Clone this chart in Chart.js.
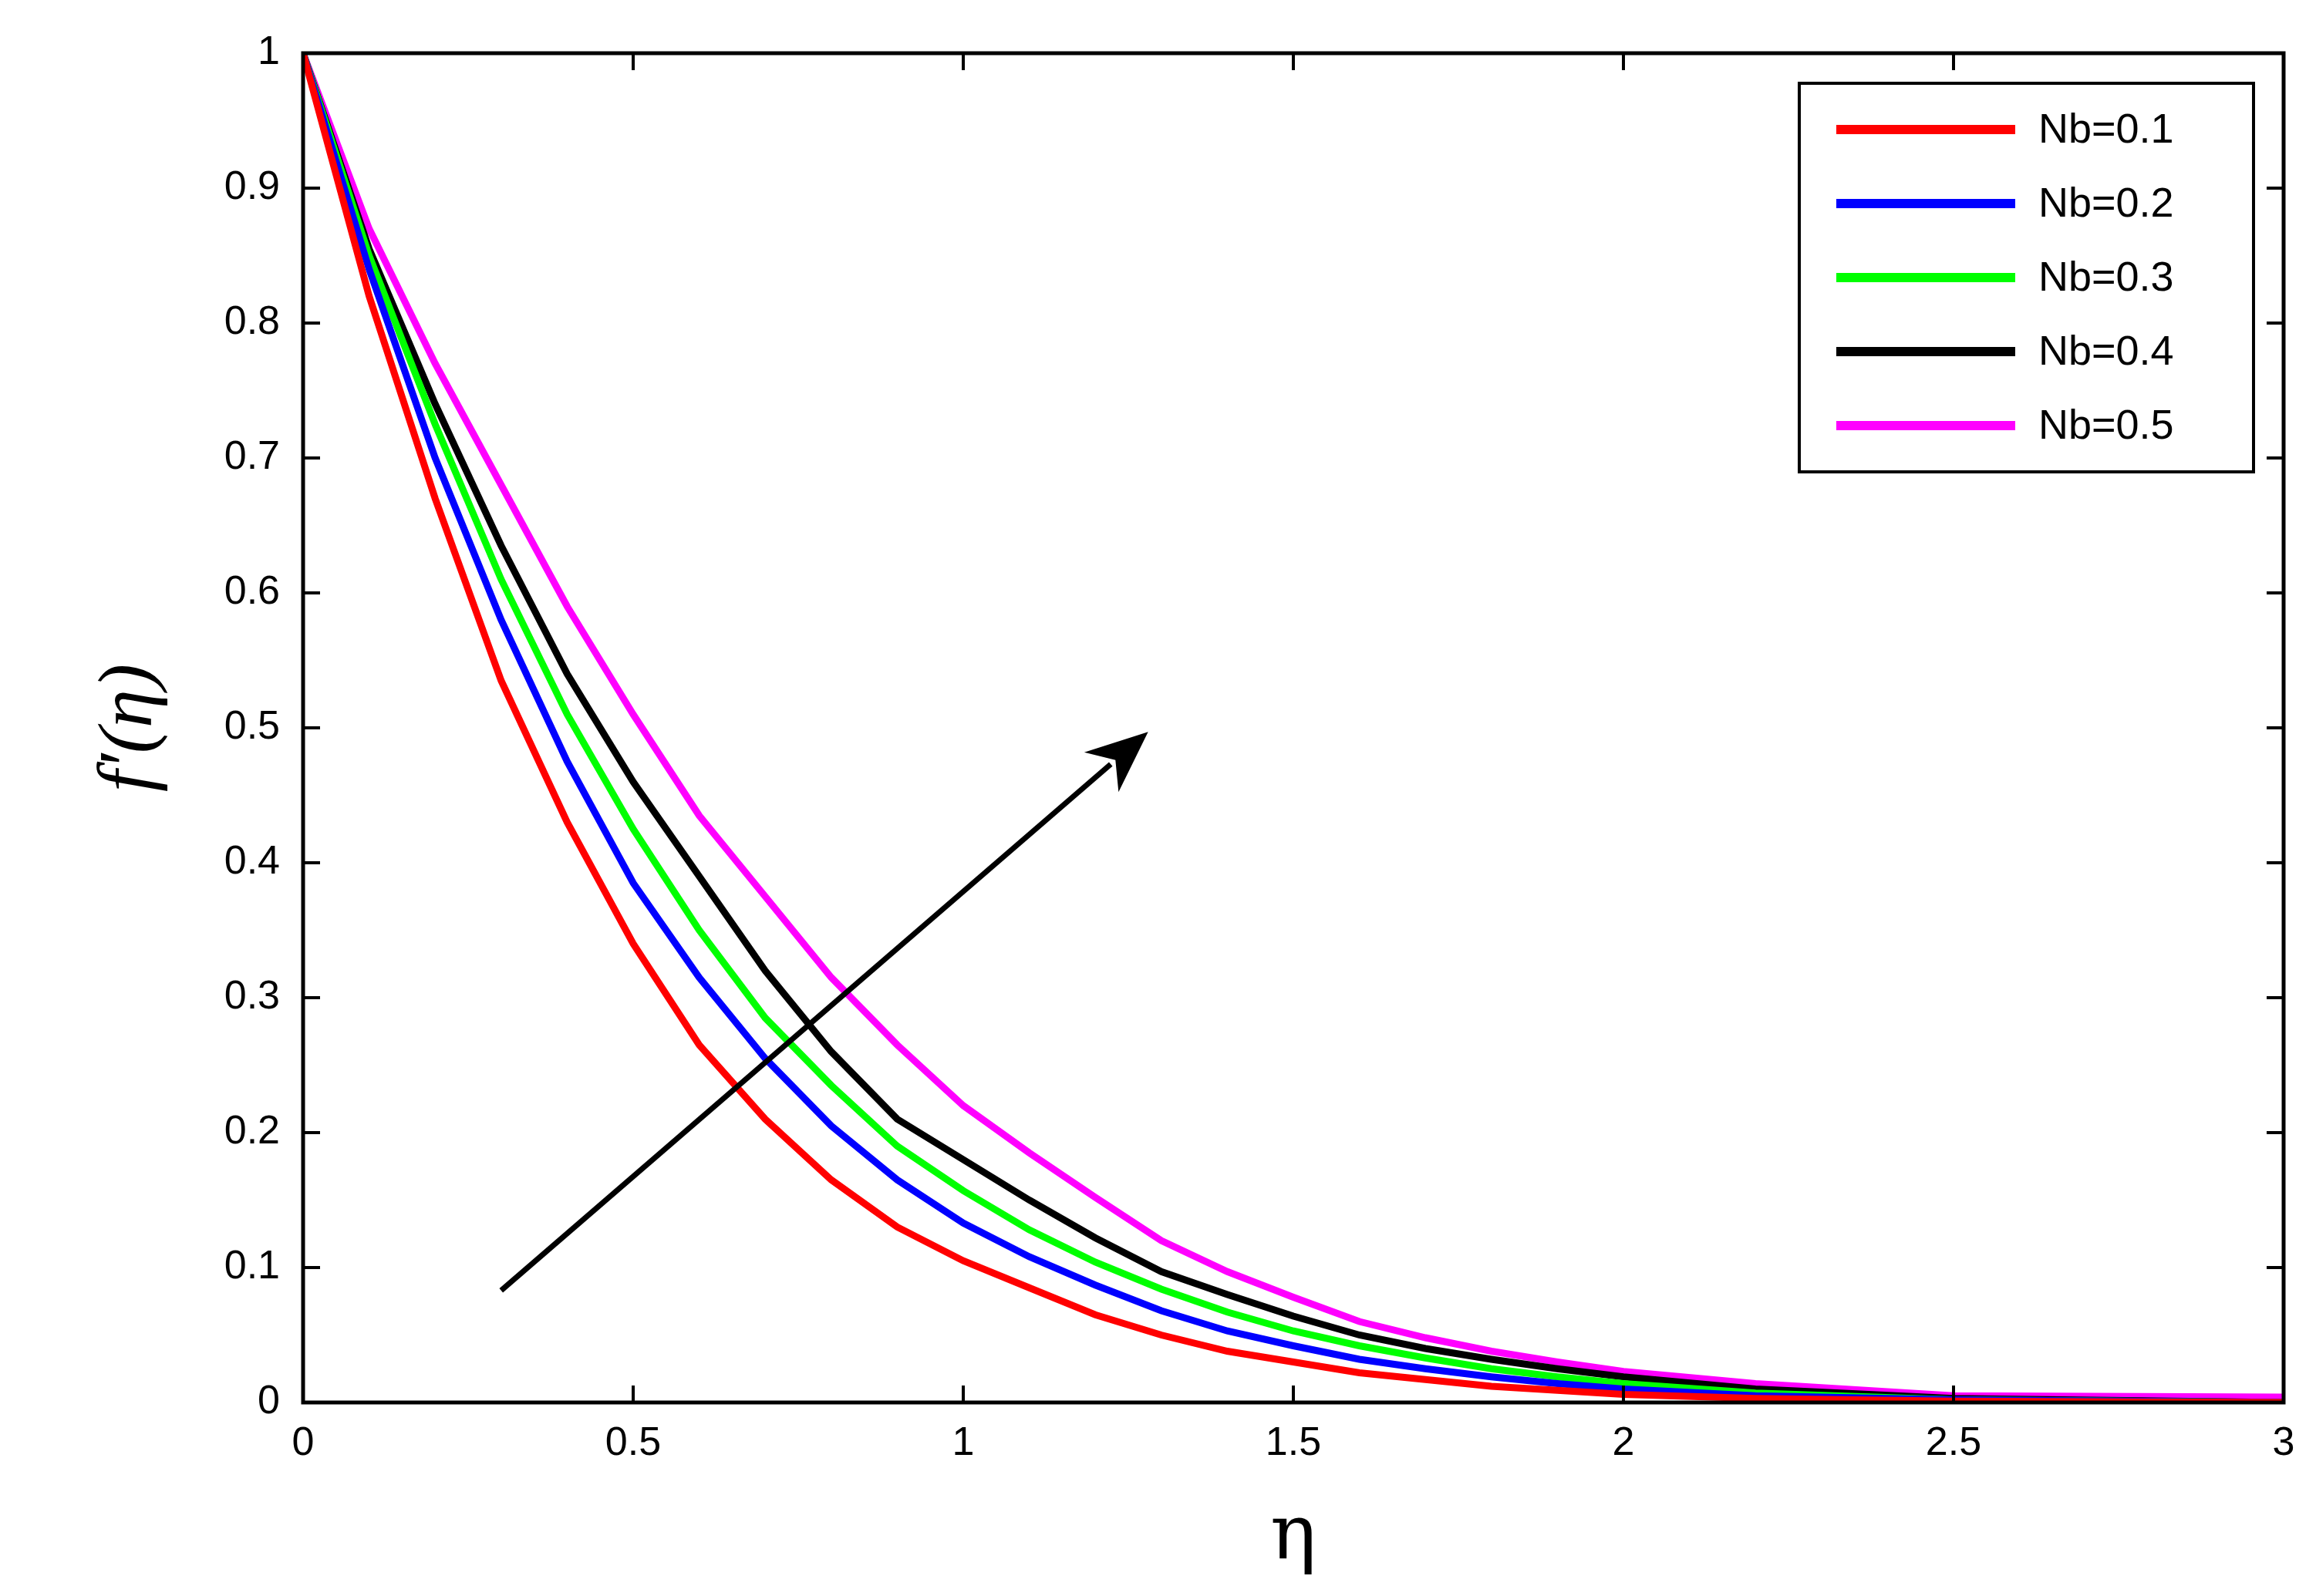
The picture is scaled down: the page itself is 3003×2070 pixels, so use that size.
<!DOCTYPE html>
<html>
<head>
<meta charset="utf-8">
<script src="https://cdn.jsdelivr.net/npm/chart.js@4"></script>
<style>
  html, body { margin: 0; padding: 0; background: #fff; }
  #wrap { width: 3003px; height: 2070px; }
</style>
</head>
<body>
<div id="wrap"><canvas id="chart" width="3003" height="2070"></canvas></div>
<script>
// values
const eta = [0, 0.1, 0.2, 0.3, 0.4, 0.5, 0.6, 0.7, 0.8, 0.9, 1.0, 1.1, 1.2, 1.3, 1.4, 1.5, 1.6, 1.7, 1.8, 1.9, 2.0, 2.2, 2.5, 3.0];
const nb01 = [1, 0.82, 0.67, 0.535, 0.43, 0.34, 0.265, 0.21, 0.165, 0.13, 0.105, 0.085, 0.065, 0.05, 0.038, 0.03, 0.022, 0.017, 0.012, 0.009, 0.006, 0.003, 0.001, 0];
const nb02 = [1, 0.84, 0.70, 0.58, 0.475, 0.385, 0.315, 0.255, 0.205, 0.165, 0.133, 0.108, 0.087, 0.068, 0.053, 0.042, 0.032, 0.025, 0.019, 0.014, 0.010, 0.005, 0.002, 0];
const nb03 = [1, 0.85, 0.725, 0.61, 0.51, 0.425, 0.35, 0.285, 0.235, 0.19, 0.157, 0.128, 0.104, 0.084, 0.067, 0.053, 0.042, 0.033, 0.025, 0.019, 0.014, 0.007, 0.002, 0];
const nb04 = [1, 0.855, 0.74, 0.635, 0.54, 0.46, 0.39, 0.32, 0.26, 0.21, 0.18, 0.15, 0.122, 0.097, 0.08, 0.064, 0.05, 0.04, 0.032, 0.025, 0.019, 0.010, 0.003, 0];
const nb05 = [1, 0.87, 0.77, 0.68, 0.59, 0.51, 0.435, 0.375, 0.315, 0.265, 0.22, 0.185, 0.152, 0.12, 0.097, 0.078, 0.06, 0.048, 0.038, 0.03, 0.023, 0.014, 0.005, 0.004];
const seriesLabels = ['Nb=0.1', 'Nb=0.2', 'Nb=0.3', 'Nb=0.4', 'Nb=0.5'];
const seriesColors = ['#ff0000', '#0000ff', '#00ff00', '#000000', '#ff00ff'];
const xTicks = [0, 0.5, 1, 1.5, 2, 2.5, 3];
const yTicks = [0, 0.1, 0.2, 0.3, 0.4, 0.5, 0.6, 0.7, 0.8, 0.9, 1];
const arrowX = [0.3, 1.28];
const arrowY = [0.083, 0.497];

const allSeries = [nb01, nb02, nb03, nb04, nb05];
const datasets = allSeries.map((vals, i) => ({
    label: seriesLabels[i],
    data: vals.map((v, j) => ({ x: eta[j], y: v })),
    borderColor: seriesColors[i],
    borderWidth: 9,
    pointRadius: 0,
    tension: 0,
    fill: false
}));

const FONT = '"Liberation Sans", Arial, sans-serif';

// frame, mirrored inside ticks, arrow, legend and axis titles
const decor = {
    id: 'decor',
    afterDatasetsDraw(chart) {
        const { ctx, chartArea: a, scales } = chart;
        const xs = scales.x, ys = scales.y;
        ctx.save();
        ctx.strokeStyle = '#000';
        ctx.lineWidth = 5;
        ctx.strokeRect(a.left, a.top, a.right - a.left, a.bottom - a.top);
        const t = 22;
        ctx.lineWidth = 4;
        ctx.beginPath();
        xTicks.forEach(v => {
            const px = xs.getPixelForValue(v);
            ctx.moveTo(px, a.bottom); ctx.lineTo(px, a.bottom - t);
            ctx.moveTo(px, a.top); ctx.lineTo(px, a.top + t);
        });
        yTicks.forEach(v => {
            const py = ys.getPixelForValue(v);
            ctx.moveTo(a.left, py); ctx.lineTo(a.left + t, py);
            ctx.moveTo(a.right, py); ctx.lineTo(a.right - t, py);
        });
        ctx.stroke();

        // arrow
        const x0 = xs.getPixelForValue(arrowX[0]), y0 = ys.getPixelForValue(arrowY[0]);
        const x1 = xs.getPixelForValue(arrowX[1]), y1 = ys.getPixelForValue(arrowY[1]);
        const ang = Math.atan2(y1 - y0, x1 - x0);
        const hl = 80, hw = 34;
        ctx.lineWidth = 7;
        ctx.beginPath();
        ctx.moveTo(x0, y0);
        ctx.lineTo(x1 - hl * 0.8 * Math.cos(ang), y1 - hl * 0.8 * Math.sin(ang));
        ctx.stroke();
        ctx.fillStyle = '#000';
        ctx.beginPath();
        ctx.moveTo(x1, y1);
        ctx.lineTo(x1 - hl * Math.cos(ang) + hw * Math.sin(ang), y1 - hl * Math.sin(ang) - hw * Math.cos(ang));
        ctx.lineTo(x1 - hl * 0.7 * Math.cos(ang), y1 - hl * 0.7 * Math.sin(ang));
        ctx.lineTo(x1 - hl * Math.cos(ang) - hw * Math.sin(ang), y1 - hl * Math.sin(ang) + hw * Math.cos(ang));
        ctx.closePath();
        ctx.fill();

        // legend
        const lx = 2333, ly = 108, lw = 589, lh = 504;
        ctx.fillStyle = '#fff';
        ctx.fillRect(lx, ly, lw, lh);
        ctx.lineWidth = 4;
        ctx.strokeRect(lx, ly, lw, lh);
        ctx.font = '54px ' + FONT;
        ctx.textBaseline = 'middle';
        ctx.textAlign = 'left';
        seriesLabels.forEach((lab, i) => {
            const yy = ly + 60 + i * 96;
            ctx.strokeStyle = seriesColors[i];
            ctx.lineWidth = 12;
            ctx.beginPath();
            ctx.moveTo(lx + 48, yy); ctx.lineTo(lx + 280, yy);
            ctx.stroke();
            ctx.fillStyle = '#000';
            ctx.fillText(lab, lx + 310, yy + 2);
        });

        // axis titles
        ctx.fillStyle = '#000';
        ctx.textAlign = 'center';
        ctx.font = '100px "DejaVu Serif", serif';
        ctx.fillText('η', (a.left + a.right) / 2, 1995);
        ctx.save();
        ctx.translate(170, (a.top + a.bottom) / 2);
        ctx.rotate(-Math.PI / 2);
        ctx.font = 'italic 100px "Liberation Serif", serif';
        ctx.fillText('f\u2032(η)', 0, 0);
        ctx.restore();
        ctx.restore();
    }
};

new Chart(document.getElementById('chart'), {
    type: 'line',
    data: { datasets },
    options: {
        responsive: false,
        animation: false,
        layout: { padding: { top: 69, right: 42, left: 0, bottom: 0 } },
        plugins: { legend: { display: false }, tooltip: { enabled: false } },
        scales: {
            x: {
                type: 'linear', min: 0, max: 3,
                grid: { display: false, drawTicks: false },
                border: { display: false },
                afterBuildTicks: s => { s.ticks = xTicks.map(v => ({ value: v })); },
                afterFit: s => { s.height = 251; },
                ticks: { color: '#000', font: { size: 52, family: FONT }, padding: 22, maxRotation: 0,
                         callback: v => String(v) }
            },
            y: {
                type: 'linear', min: 0, max: 1,
                grid: { display: false, drawTicks: false },
                border: { display: false },
                afterBuildTicks: s => { s.ticks = yTicks.map(v => ({ value: v })); },
                afterFit: s => { s.width = 393; },
                ticks: { color: '#000', font: { size: 52, family: FONT }, padding: 30,
                         callback: v => String(v) }
            }
        }
    },
    plugins: [decor]
});
</script>
</body>
</html>
